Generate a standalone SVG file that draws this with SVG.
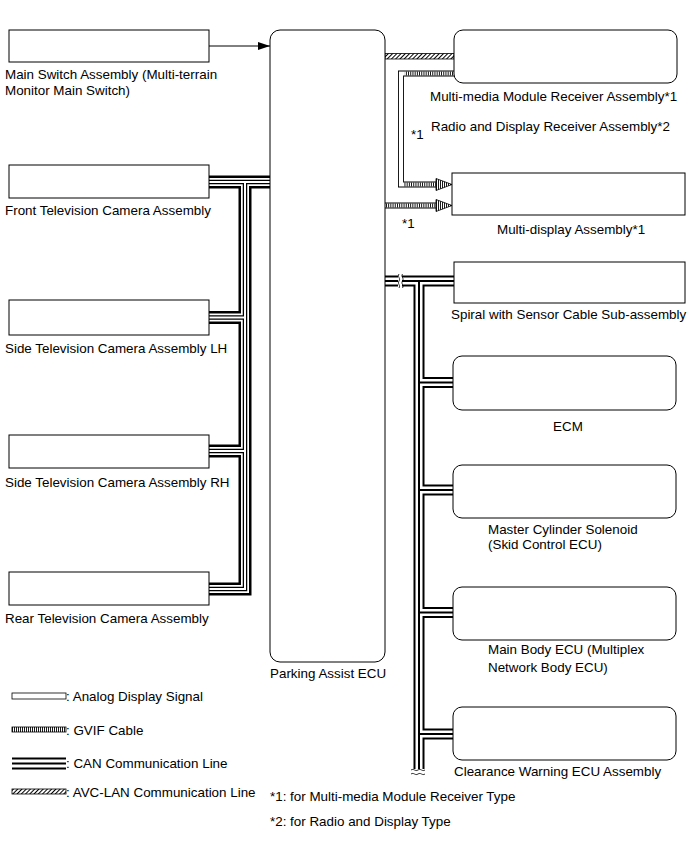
<svg xmlns="http://www.w3.org/2000/svg" width="690" height="855" viewBox="0 0 690 855">
<style>
text{font-family:"Liberation Sans",Arial,sans-serif;font-size:13.4px;fill:#000}
.box{fill:#fff;stroke:#000;stroke-width:1}
.k{fill:none;stroke:#000;stroke-linejoin:miter}
.w{fill:none;stroke:#fff;stroke-linejoin:miter}
.g{fill:none;stroke:#000;stroke-width:4.2;stroke-dasharray:0.9 1.3}
</style>
<defs>
<pattern id="hatch" width="3" height="3" patternUnits="userSpaceOnUse" patternTransform="rotate(45)"><rect width="3" height="3" fill="#fff"/><line x1="0.5" y1="0" x2="0.5" y2="3" stroke="#000" stroke-width="1"/></pattern>
<pattern id="vs" width="2" height="10" patternUnits="userSpaceOnUse"><rect width="2" height="10" fill="#fff"/><line x1="0.5" y1="0" x2="0.5" y2="10" stroke="#000" stroke-width="0.9"/></pattern>
<marker id="arr" markerWidth="12" markerHeight="10" refX="12" refY="5" orient="auto" markerUnits="userSpaceOnUse"><path d="M0,1 L12,5 L0,9 Z" fill="#000"/></marker>
</defs>

<g id="connectors">
<line x1="209" y1="46" x2="270" y2="46" stroke="#000" stroke-width="1" marker-end="url(#arr)"/>
<!-- AVC-LAN -->
<rect x="385" y="53.5" width="69" height="5.5" fill="url(#hatch)" stroke="#000" stroke-width="0.8"/>
<!-- GVIF 1 -->
<path class="k" d="M454,73.5 H401 V184.5 H438" stroke-width="6"/>
<path class="w" d="M454,73.5 H401 V184.5 H438" stroke-width="4.2"/>
<path class="g" d="M453,73.5 H404.5 M404.5,184.5 H438"/>
<polygon points="436,178.5 452,184.5 436,190.5" fill="url(#vs)" stroke="#000" stroke-width="0.8"/>
<!-- GVIF 2 -->
<path class="k" d="M385,205.5 H438" stroke-width="6"/>
<path class="w" d="M385,205.5 H438" stroke-width="4.2"/>
<path class="g" d="M386,205.5 H438"/>
<polygon points="436,199.5 452,205.5 436,211.5" fill="url(#vs)" stroke="#000" stroke-width="0.8"/>
<!-- Camera cable -->
<g>
<path class="k" d="M209,182 H270 M245,182 V589 H209 M209,317.5 H245 M209,451 H245" stroke-width="13"/>
<path class="w" d="M209,182 H270 M245,182 V589 H209 M209,317.5 H245 M209,451 H245" stroke-width="8"/>
<path class="k" d="M209,182 H270 M245,182 V589 H209 M209,317.5 H245 M209,451 H245" stroke-width="4.5" stroke="#444"/>
<path class="w" d="M209,182 H270 M245,182 V589 H209 M209,317.5 H245 M209,451 H245" stroke-width="2"/>
</g>
<!-- CAN bus -->
<g>
<path class="k" d="M385,281 H454 M419,281 V771 M419,382.5 H454 M419,490 H454 M419,612.5 H454 M419,734 H454" stroke-width="11"/>
<path class="w" d="M385,281 H454 M419,281 V771 M419,382.5 H454 M419,490 H454 M419,612.5 H454 M419,734 H454" stroke-width="7"/>
<path class="k" d="M385,281 H454 M419,281 V771 M419,382.5 H454 M419,490 H454 M419,612.5 H454 M419,734 H454" stroke-width="2"/>
<rect x="398" y="274" width="4" height="14" fill="#fff"/>
<path d="M399,274 c-2,3 2,4 0,7 c-2,3 2,4 0,7 M402.5,274 c-2,3 2,4 0,7 c-2,3 2,4 0,7" fill="none" stroke="#000" stroke-width="0.8"/>
<rect x="412" y="769" width="14" height="10" fill="#fff"/>
<path d="M411,770 c3,-2 4,2 7,0 c3,-2 4,2 7,0 M411,774 c3,-2 4,2 7,0 c3,-2 4,2 7,0" fill="none" stroke="#000" stroke-width="0.8"/>
</g>
</g>

<g id="main-switch"><rect class="box" x="9" y="30" width="200" height="32"/>
<text x="5" y="79">Main Switch Assembly (Multi-terrain</text><text x="5" y="95">Monitor Main Switch)</text></g>
<g id="front-camera"><rect class="box" x="9" y="165" width="200" height="33"/>
<text x="5" y="215">Front Television Camera Assembly</text></g>
<g id="side-camera-lh"><rect class="box" x="9" y="300" width="200" height="35"/>
<text x="5" y="353">Side Television Camera Assembly LH</text></g>
<g id="side-camera-rh"><rect class="box" x="9" y="435" width="200" height="33"/>
<text x="5" y="487">Side Television Camera Assembly RH</text></g>
<g id="rear-camera"><rect class="box" x="9" y="572" width="200" height="33"/>
<text x="5" y="623">Rear Television Camera Assembly</text></g>

<g id="parking-assist-ecu"><rect class="box" x="270" y="30" width="115" height="632" rx="10"/>
<text x="270" y="678">Parking Assist ECU</text></g>

<g id="multimedia-receiver"><rect class="box" x="454" y="30" width="223" height="53" rx="9"/>
<text x="430" y="101">Multi-media Module Receiver Assembly*1</text>
<text x="431" y="131">Radio and Display Receiver Assembly*2</text></g>
<text x="411" y="139">*1</text>
<g id="multi-display"><rect class="box" x="452" y="173" width="233" height="42"/>
<text x="497" y="234">Multi-display Assembly*1</text></g>
<text x="402" y="228">*1</text>

<g id="spiral"><rect class="box" x="454" y="262" width="231" height="41"/>
<text x="451" y="319">Spiral with Sensor Cable Sub-assembly</text></g>
<g id="ecm"><rect class="box" x="453" y="356" width="223" height="54" rx="9"/>
<text x="568" y="431" text-anchor="middle">ECM</text></g>
<g id="master-cylinder"><rect class="box" x="453" y="465" width="223" height="53" rx="9"/>
<text x="488" y="534">Master Cylinder Solenoid</text><text x="488" y="549">(Skid Control ECU)</text></g>
<g id="main-body-ecu"><rect class="box" x="453" y="587" width="223" height="53" rx="9"/>
<text x="488" y="654">Main Body ECU (Multiplex</text><text x="488" y="672">Network Body ECU)</text></g>
<g id="clearance-warning"><rect class="box" x="453" y="707" width="223" height="53" rx="9"/>
<text x="454" y="776">Clearance Warning ECU Assembly</text></g>

<g id="legend">
<rect x="12" y="693" width="54" height="6" fill="#fff" stroke="#000" stroke-width="0.8"/>
<text x="66" y="701">: Analog Display Signal</text>
<rect x="12" y="727" width="54" height="5" fill="url(#vs)" stroke="#000" stroke-width="0.8"/>
<text x="66" y="735">: GVIF Cable</text>
<path d="M12,758.5 H66 M12,763.5 H66 M12,768.5 H66" stroke="#000" stroke-width="2"/>
<text x="66" y="768">: CAN Communication Line</text>
<rect x="12" y="789" width="54" height="5" fill="url(#hatch)" stroke="#000" stroke-width="0.8"/>
<text x="66" y="797">: AVC-LAN Communication Line</text>
</g>
<g id="notes">
<text x="270" y="801">*1: for Multi-media Module Receiver Type</text>
<text x="270" y="826">*2: for Radio and Display Type</text>
</g>
</svg>
